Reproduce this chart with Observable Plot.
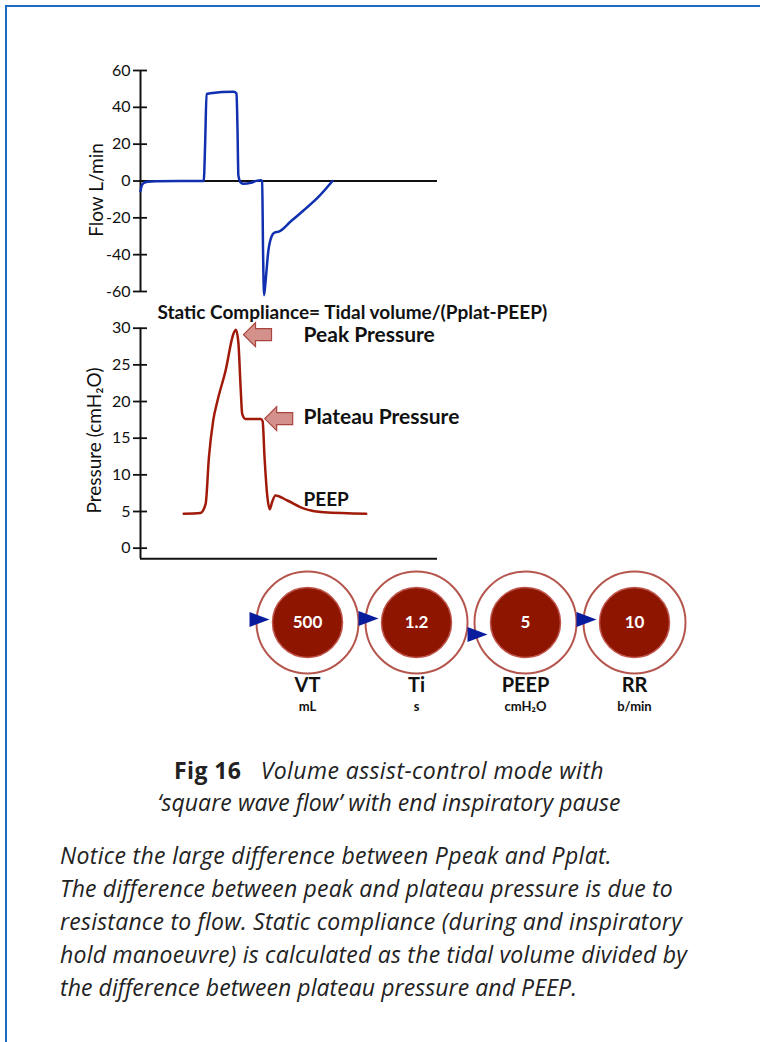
<!DOCTYPE html>
<html><head><meta charset="utf-8">
<script src="https://cdn.jsdelivr.net/npm/d3@7"></script>
<script src="https://cdn.jsdelivr.net/npm/@observablehq/plot@0.6"></script>
<style>
html,body{margin:0;padding:0;background:#fff;}
#page{position:relative;width:760px;height:1042px;overflow:hidden;background:#fff;}
#bt{position:absolute;left:5px;top:5px;right:0;height:2px;background:#1f6bc4;}
#bl{position:absolute;left:5px;top:5px;bottom:0;width:2px;background:#1f6bc4;}
.chart{position:absolute;left:0;}
.chart svg{display:block;overflow:visible;}
#title{position:absolute;left:0;width:778px;top:754px;text-align:center;font-family:"Open Sans",sans-serif;font-size:23px;line-height:32px;color:#222;}
#title b{font-weight:700;}
#title i{font-style:italic;}
#body{position:absolute;left:60px;top:839px;font-family:"Open Sans",sans-serif;font-style:italic;font-size:23px;line-height:33px;color:#222;white-space:nowrap;}
.fit{display:inline-block;white-space:nowrap;}
</style></head><body>
<div id="page">
<div id="bt"></div><div id="bl"></div>
<div class="chart" id="flow" style="top:50px"></div>
<div class="chart" id="pressure" style="top:295px"></div>
<div class="chart" id="dials" style="top:560px"></div>
<div id="title"><span class="fit" data-w="430"><b>Fig 16</b>&nbsp;&nbsp; <i>Volume assist-control mode with</i></span><br><span class="fit" data-w="463"><i>‘square wave flow’ with end inspiratory pause</i></span></div>
<div id="body"><span class="fit" data-w="552">Notice the large difference between Ppeak and Pplat.</span><br><span class="fit" data-w="613">The difference between peak and plateau pressure is due to</span><br><span class="fit" data-w="622">resistance to flow. Static compliance (during and inspiratory</span><br><span class="fit" data-w="627">hold manoeuvre) is calculated as the tidal volume divided by</span><br><span class="fit" data-w="517">the difference between plateau pressure and PEEP.</span></div>
</div>
<script>
// ---- data ----
const flowTime  = [0, 0.02, 0.06, 0.15, 0.32, 1.33, 1.36, 1.39, 1.47, 1.96, 2.02, 2.04, 2.06, 2.11, 2.17, 2.32, 2.46, 2.53, 2.56, 2.58, 2.60, 2.63, 2.69, 2.76, 2.82, 2.91, 3.16, 3.43, 3.75, 4.04];
const flowValue = [-5.5, -3, -1.2, -0.4, -0.1, 0, 20, 47.3, 47.6, 48.4, 47.5, 30, 3, -0.8, -1.5, -1, 0.2, 0.4, 0, -40, -62, -55, -38, -30, -28, -27.5, -22, -16, -8.5, 0];
const flowTicks = [-60, -40, -20, 0, 20, 40, 60];
const flowLabel = "Flow L/min";

const pressureTime  = [0.91, 1.26, 1.37, 1.44, 1.53, 1.62, 1.79, 1.96, 2.01, 2.06, 2.11, 2.14, 2.21, 2.53, 2.57, 2.61, 2.67, 2.72, 2.77, 2.84, 3.09, 3.44, 3.86, 4.75];
const pressureValue = [4.7, 4.8, 6.0, 12.4, 17.4, 20.1, 24.2, 29.3, 29.8, 28, 21.5, 18.3, 17.6, 17.6, 17.3, 12.4, 7.0, 5.3, 6.3, 7.2, 6.5, 5.4, 4.9, 4.7];
const pressureTicks = [0, 5, 10, 15, 20, 25, 30];
const pressureLabel = "Pressure (cmH₂O)";
const complianceText = "Static Compliance= Tidal volume/(Pplat-PEEP)";
const peakPoint = {t: 2.01, p: 29.8, label: "Peak Pressure"};
const plateauPoint = {t: 2.55, p: 17.6, label: "Plateau Pressure"};
const peepPoint = {p: 5, label: "PEEP"};

const params = ["VT", "Ti", "PEEP", "RR"];
const paramValues = ["500", "1.2", "5", "10"];
const paramUnits = ["mL", "s", "cmH₂O", "b/min"];
const needleOffset = [-3, -4, 12, -3];

// ---- shared ----
const xDomain = [0, 6.25];
const font = {fontFamily: "Lato, sans-serif", fontSize: "16px", color: "#111", background: "transparent", overflow: "visible"};
const ink = "#111";
const plain = d => String(d);

const triangleSymbol = {draw(ctx, size) { const r = Math.sqrt(size / Math.PI); ctx.moveTo(-r, -0.75 * r); ctx.lineTo(r, 0); ctx.lineTo(-r, 0.75 * r); ctx.closePath(); }};
const arrowSymbol = {draw(ctx, size) { const r = Math.sqrt(size / Math.PI); const k = r / 14;
  ctx.moveTo(0, 0); ctx.lineTo(12 * k, -12 * k); ctx.lineTo(12 * k, -6 * k); ctx.lineTo(28 * k, -6 * k);
  ctx.lineTo(28 * k, 6 * k); ctx.lineTo(12 * k, 6 * k); ctx.lineTo(12 * k, 12 * k); ctx.closePath(); }};

// ---- flow ----
const flowRows = flowTime.map((t, i) => ({t, v: flowValue[i]}));
const flow = Plot.plot({
  width: 760, height: 250, marginLeft: 140, marginRight: 323, marginTop: 20, marginBottom: 9,
  style: font,
  x: {domain: xDomain, axis: null},
  y: {domain: [-60, 60], label: null},
  marks: [
    Plot.ruleY([0], {stroke: ink, strokeWidth: 2}),
    Plot.ruleX([xDomain[0]], {stroke: ink, strokeWidth: 2}),
    Plot.axisY({ticks: flowTicks, tickSize: 14, dx: 7, tickFormat: () => "", stroke: ink, strokeWidth: 1.8, label: null}),
    Plot.axisY({ticks: flowTicks, tickSize: 0, tickPadding: 10, tickFormat: plain, fontSize: 16, fill: ink, label: null}),
    Plot.text([flowLabel], {text: d => d, frameAnchor: "left", dx: -44, dy: 9, rotate: -90, textAnchor: "middle", fontSize: 19, fill: ink}),
    Plot.line(flowRows, {x: "t", y: "v", curve: "monotone-x", stroke: "#1030b0", strokeWidth: 2.5})
  ]
});
document.getElementById("flow").append(flow);

// ---- pressure ----
const pressureRows = pressureTime.map((t, i) => ({t, p: pressureValue[i]}));
const pDomain = [-1.45, 30];
const pressure = Plot.plot({
  width: 760, height: 275, marginLeft: 140, marginRight: 323, marginTop: 32.7, marginBottom: 11.7,
  style: font,
  x: {domain: xDomain, axis: null},
  y: {domain: pDomain, label: null},
  marks: [
    Plot.ruleY([pDomain[0]], {stroke: ink, strokeWidth: 2}),
    Plot.ruleX([xDomain[0]], {stroke: ink, strokeWidth: 2}),
    Plot.axisY({ticks: pressureTicks, tickSize: 14, dx: 7, tickFormat: () => "", stroke: ink, strokeWidth: 1.8, label: null}),
    Plot.axisY({ticks: pressureTicks, tickSize: 0, tickPadding: 10, tickFormat: plain, fontSize: 16, fill: ink, label: null}),
    Plot.text([pressureLabel], {text: d => d, frameAnchor: "left", dx: -46, dy: -3, rotate: -90, textAnchor: "middle", fontSize: 19, fill: ink}),
    Plot.text([complianceText], {text: d => d, frameAnchor: "top-left", dx: 17, dy: -22.7, textAnchor: "start", fontSize: 19, fontWeight: "bold", fill: ink}),
    Plot.line(pressureRows, {x: "t", y: "p", curve: "monotone-x", stroke: "#a01a0a", strokeWidth: 2.5}),
    Plot.dot([peakPoint], {x: "t", y: "p", symbol: arrowSymbol, r: 14, dx: 7.5, dy: 5, fill: "#d4908b", stroke: "#a8453e", strokeWidth: 1.2}),
    Plot.dot([plateauPoint], {x: "t", y: "p", symbol: arrowSymbol, r: 14, dx: 3, dy: -0.5, fill: "#d4908b", stroke: "#a8453e", strokeWidth: 1.2}),
    Plot.text([peakPoint], {y: "p", text: "label", frameAnchor: "left", dx: 163, dy: 6, textAnchor: "start", fontSize: 21, fontWeight: "bold", fill: ink}),
    Plot.text([plateauPoint], {y: "p", text: "label", frameAnchor: "left", dx: 163, dy: -2, textAnchor: "start", fontSize: 21, fontWeight: "bold", fill: ink}),
    Plot.text([peepPoint], {y: "p", text: "label", frameAnchor: "left", dx: 163, dy: -12, textAnchor: "start", fontSize: 19, fontWeight: "bold", fill: ink})
  ]
});
document.getElementById("pressure").append(pressure);

// ---- dials ----
const dialRows = params.map((p, i) => ({p, value: paramValues[i], unit: paramUnits[i], needle: needleOffset[i]}));
const dials = Plot.plot({
  width: 760, height: 160, marginLeft: 307, marginRight: 126, marginTop: 0, marginBottom: 0,
  style: font,
  x: {type: "point", domain: params, padding: 0, axis: null},
  y: {domain: [-62, 98], reverse: true, axis: null},
  marks: [
    Plot.dot(dialRows, {x: "p", y: () => 0, r: 51, fill: "white", stroke: "#b5564e", strokeWidth: 2}),
    Plot.dot(dialRows, {x: "p", y: () => 0, r: 35, fill: "#8e1500", stroke: "#c0554c", strokeWidth: 1.5}),
    Plot.dot(dialRows, {x: "p", y: "needle", symbol: triangleSymbol, r: 10, dx: -48, fill: "#0a1c9e", stroke: "none"}),
    Plot.text(dialRows, {x: "p", y: () => 0, text: "value", fill: "white", fontWeight: "bold", fontSize: 17}),
    Plot.text(dialRows, {x: "p", y: () => 0, text: "p", dy: 63, fill: ink, fontWeight: "bold", fontSize: 20}),
    Plot.text(dialRows, {x: "p", y: () => 0, text: "unit", dy: 84, fill: ink, fontWeight: "bold", fontSize: 13})
  ]
});
document.getElementById("dials").append(dials);

// ---- fit caption lines to the reference line lengths ----
document.querySelectorAll(".fit").forEach(el => {
  const target = +el.dataset.w;
  const w = el.getBoundingClientRect().width;
  const n = el.textContent.length;
  el.style.letterSpacing = ((target - w) / n).toFixed(3) + "px";
});
</script>
</body></html>
